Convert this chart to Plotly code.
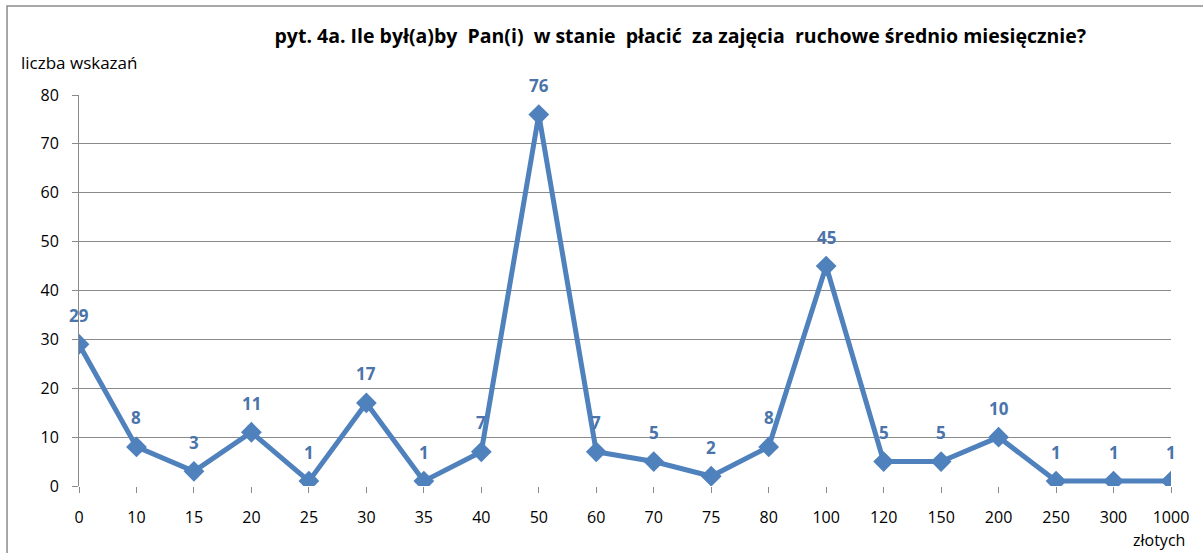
import plotly.graph_objects as go

# Declared monthly amounts (PLN) and number of answers for each
kwoty = ["0", "10", "15", "20", "25", "30", "35", "40", "50", "60",
         "70", "75", "80", "100", "120", "150", "200", "250", "300", "1000"]
wskazania = [29, 8, 3, 11, 1, 17, 1, 7, 76, 7, 5, 2, 8, 45, 5, 5, 10, 1, 1, 1]
y_ticks = [0, 10, 20, 30, 40, 50, 60, 70, 80]

BLUE = "#4F81BD"
LABEL_BLUE = "#4A74AA"
GRID = "#8a8a8a"
FONT = "'Open Sans', sans-serif"

fig = go.Figure()
fig.add_trace(go.Scatter(
    x=kwoty, y=wskazania, mode="lines+markers",
    line=dict(color=BLUE, width=5),
    marker=dict(symbol="diamond", size=16, color=BLUE),
    hoverinfo="x+y", showlegend=False,
))

# value labels above each point (category axis: position by index)
for i, v in enumerate(wskazania):
    fig.add_annotation(x=i, y=v, text=f"<b>{v}</b>", showarrow=False,
                       yshift=29, font=dict(size=17, color=LABEL_BLUE, family=FONT))

fig.update_layout(
    width=1203, height=553,
    margin=dict(l=79, r=32, t=95, b=67),
    paper_bgcolor="white", plot_bgcolor="white",
    font=dict(family=FONT, size=15, color="black"),
    title=dict(text="<b>pyt. 4a. Ile był(a)by  Pan(i)  w stanie  płacić  za zajęcia  ruchowe średnio miesięcznie?</b>",
               x=0.5655, xanchor="center", y=0.935, yanchor="middle",
               font=dict(size=19.5, family=FONT, color="black")),
    xaxis=dict(type="category", range=[0, len(kwoty) - 1], showgrid=False,
               showline=False, zeroline=False,
               ticks="outside", ticklen=6, tickcolor=GRID, tickwidth=1,
               ticklabelstandoff=11,
               tickfont=dict(size=16), automargin=False),
    yaxis=dict(range=[0, 80], tickvals=y_ticks, showgrid=True, gridcolor=GRID,
               gridwidth=1, zeroline=False, showline=True, linecolor=GRID,
               linewidth=1, ticks="outside", ticklen=6, tickcolor=GRID,
               ticklabelstandoff=10,
               tickfont=dict(size=16), automargin=False),
)

# axis captions
fig.add_annotation(text="liczba wskazań", xref="paper", yref="paper",
                   x=-0.0545, y=1.082, xanchor="left", yanchor="middle",
                   showarrow=False, font=dict(size=17, family=FONT))
fig.add_annotation(text="złotych", xref="paper", yref="paper",
                   x=1.0147, y=-0.137, xanchor="right", yanchor="middle",
                   showarrow=False, font=dict(size=16, family=FONT))

# chart frame
fig.add_shape(type="rect", xref="paper", yref="paper",
              x0=-0.0659, x1=1.05, y0=-0.2, y1=1.2276,
              line=dict(color="#8c8c8c", width=1.5), layer="below")

fig.write_html("out.html")
